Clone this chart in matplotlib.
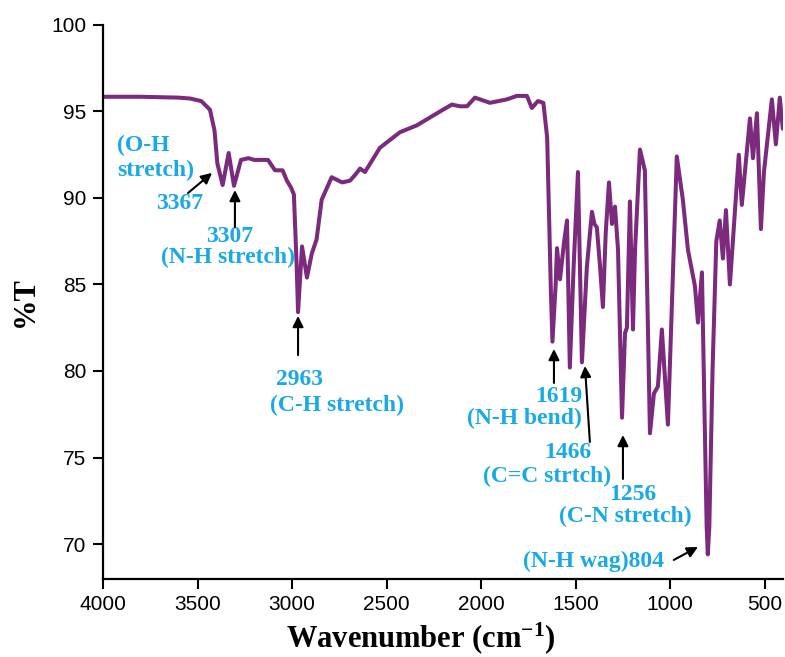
import matplotlib
matplotlib.use("Agg")
from matplotlib import pyplot as plt

# IR spectrum (wavenumber in cm-1, transmittance in %)
wavenumber = [4000, 3800, 3600, 3540, 3480, 3434, 3410, 3395, 3367, 3335,
              3307, 3270, 3230, 3200, 3127, 3090, 3050, 3027, 3005, 2990,
              2975, 2968, 2947, 2921, 2895, 2870, 2843, 2790, 2735, 2693,
              2661, 2640, 2614, 2535, 2429, 2339, 2217, 2154, 2111, 2074,
              2032, 1953, 1863, 1810, 1757, 1731, 1699, 1670, 1650, 1640,
              1630, 1622, 1605, 1598, 1582, 1560, 1545, 1530, 1510, 1487,
              1466, 1440, 1413, 1400, 1387, 1370, 1355, 1340, 1323, 1307,
              1291, 1275, 1254, 1238, 1228, 1212, 1196, 1185, 1159, 1133,
              1106, 1085, 1064, 1043, 1011, 964, 932, 905, 868, 852,
              831, 818, 806, 800, 792, 775, 755, 737, 720, 704,
              683, 636, 620, 577, 561, 540, 519, 503, 461, 440,
              419, 403]
transmittance = [95.85, 95.85, 95.8, 95.75, 95.6, 95.1, 93.9, 92.0, 90.75, 92.6,
                 90.7, 92.2, 92.3, 92.2, 92.2, 91.6, 91.6, 91.0, 90.6, 90.2,
                 86.0, 83.4, 87.2, 85.4, 86.8, 87.6, 89.9, 91.2, 90.9, 91.0,
                 91.4, 91.7, 91.5, 92.9, 93.8, 94.2, 95.0, 95.4, 95.3, 95.3,
                 95.8, 95.5, 95.7, 95.9, 95.9, 95.2, 95.6, 95.5, 93.5, 89.0,
                 84.5, 81.7, 85.0, 87.1, 85.3, 87.5, 88.7, 80.2, 86.0, 91.5,
                 80.5, 86.0, 89.2, 88.5, 88.3, 86.0, 83.7, 88.0, 90.9, 88.5,
                 89.5, 87.0, 77.3, 82.2, 82.5, 89.8, 82.4, 87.0, 92.8, 91.6,
                 76.4, 78.7, 79.1, 82.4, 76.9, 92.4, 89.9, 87.0, 84.9, 82.8,
                 85.7, 78.0, 71.0, 69.4, 71.0, 80.0, 87.5, 88.7, 86.5, 89.3,
                 85.0, 92.5, 89.6, 94.6, 92.3, 94.9, 88.2, 91.5, 95.7, 93.1,
                 95.8, 94.0]

# peak labels
peak_labels = ["(O-H\nstretch)", "3367", "3307", "(N-H stretch)", "2963",
               "(C-H stretch)", "1619", "(N-H bend)", "1466", "(C=C strtch)",
               "1256", "(C-N stretch)", "(N-H wag)804"]
xticks = [4000, 3500, 3000, 2500, 2000, 1500, 1000, 500]
yticks = [70, 75, 80, 85, 90, 95, 100]

line_color = "#7b2a7d"
label_color = "#19a9e6"

plt.rcParams["mathtext.fontset"] = "custom"
plt.rcParams["mathtext.rm"] = "Liberation Serif:bold"
plt.rcParams["mathtext.default"] = "rm"

fig = plt.figure(figsize=(7.85, 6.57), dpi=100)
ax = fig.add_axes([103 / 785, 0.1193, 680.4 / 785, 0.962 - 0.1193])

ax.plot(wavenumber, transmittance, color=line_color, lw=2.9,
        solid_joinstyle="round", solid_capstyle="round")

ax.set_xlim(4000, 400)
ax.set_ylim(68, 100)
ax.set_xticks(xticks)
ax.set_yticks(yticks)
for s in ["top", "right"]:
    ax.spines[s].set_visible(False)
for s in ["left", "bottom"]:
    ax.spines[s].set_linewidth(1.6)
ax.tick_params(direction="out", length=7, width=1.5, pad=5, labelsize=15)
for lab in ax.get_xticklabels() + ax.get_yticklabels():
    lab.set_fontfamily("Liberation Sans")

ax.set_xlabel(r"Wavenumber (cm$^{-1}$)", fontsize=22, fontweight="bold",
              fontfamily="Liberation Serif")
ax.xaxis.set_label_coords((421 - 103) / 680.4, -0.075)
ax.set_ylabel("%T", fontsize=22, fontweight="bold",
              fontfamily="Liberation Serif", va="center")
ax.yaxis.set_label_coords((25 - 103) / 680.4, 0.5)

tfont = dict(fontsize=17, fontweight="bold", fontfamily="Liberation Serif",
             color=label_color)

ax.text(3926, 92.31, peak_labels[0], ha="left", va="center", linespacing=1.25, **tfont)
ax.text(3593, 89.71, peak_labels[1], ha="center", va="center", **tfont)
ax.text(3328, 87.80, peak_labels[2], ha="center", va="center", **tfont)
ax.text(3339, 86.59, peak_labels[3], ha="center", va="center", **tfont)
ax.text(2958, 79.48, peak_labels[4], ha="center", va="center", **tfont)
ax.text(2762, 77.98, peak_labels[5], ha="center", va="center", **tfont)
ax.text(1466, 78.55, peak_labels[6], ha="right", va="center", **tfont)
ax.text(1466, 77.23, peak_labels[7], ha="right", va="center", **tfont)
ax.text(1540, 75.3, peak_labels[8], ha="center", va="center", **tfont)
ax.text(1313, 73.9, peak_labels[9], ha="right", va="center", **tfont)
ax.text(1196, 72.89, peak_labels[10], ha="center", va="center", **tfont)
ax.text(1239, 71.62, peak_labels[11], ha="center", va="center", **tfont)
ax.text(1403, 69.02, peak_labels[12], ha="center", va="center", **tfont)

arrows = [((3550, 90.29), (3423, 91.45)),
          ((3302, 88.32), (3302, 90.46)),
          ((2968, 80.92), (2968, 83.18)),
          ((1614, 79.31), (1614, 81.27)),
          ((1424, 75.9), (1450, 80.29)),
          ((1249, 73.76), (1249, 76.30)),
          ((980, 69.08), (852, 69.83))]
for tail, head in arrows:
    ax.annotate("", xy=head, xytext=tail,
                arrowprops=dict(arrowstyle="-|>", color="black", lw=1.5,
                                mutation_scale=16, shrinkA=0, shrinkB=0))

fig.savefig("out.png", dpi=100)
